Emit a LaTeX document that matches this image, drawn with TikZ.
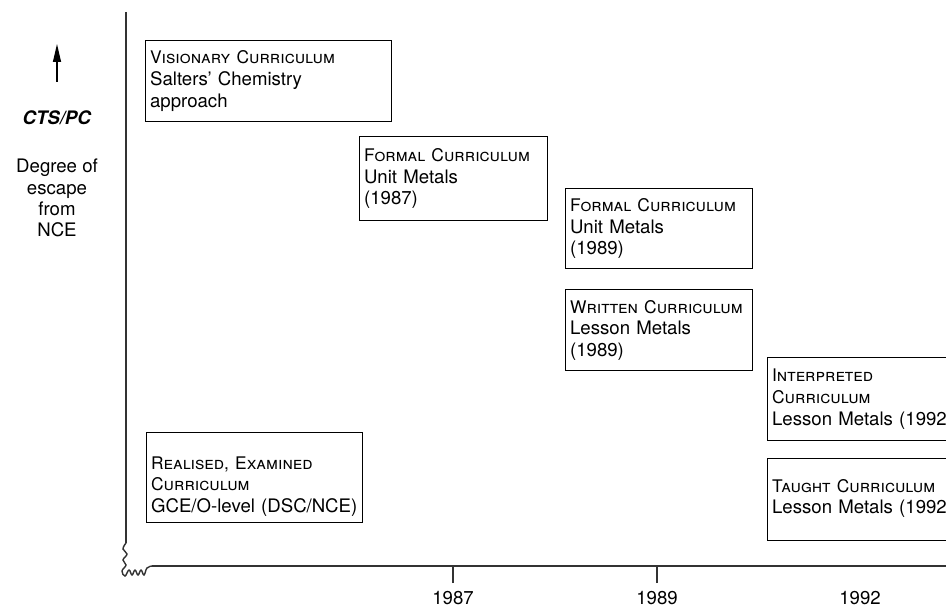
\documentclass[tikz,border=0pt]{standalone}
\usepackage{fontspec}
\setmainfont{TeX Gyre Heros}
\usetikzlibrary{arrows.meta,positioning}
\newcommand{\smc}[1]{{\fontsize{9.9}{12.3}\selectfont\textsc{#1}}}

\begin{document}
\begin{tikzpicture}[
  x=0.02cm, y=-0.02cm,
  box/.style={draw, line width=0.7pt, anchor=north west, inner xsep=0.9mm, inner ysep=0pt, align=left, font=\fontsize{10.6}{12.3}\selectfont},
  lab/.style={font=\fontsize{10.6}{12.1}\selectfont, align=center, inner sep=0pt},
  axis/.style={line width=0.8pt, black!80},
  arr/.style={-{Triangle[length=3.6mm, width=1.6mm]}, line width=0.7pt}
]
\useasboundingbox (0,0) rectangle (946,608);

% vertical scale on the left
\coordinate (foot) at (57,82);
\coordinate (tip) at (57,44);
\draw[arr] (foot) -- (tip);
\node[lab] (cts) at (57,118) {\textbf{\textit{CTS/PC}}};
\node[lab] (escape) at (57,198) {Degree of\\escape\\from\\NCE};

% axes
\coordinate (ytop) at (126,12);
\coordinate (ybreak) at (126,543);
\coordinate (xstart) at (152,566);
\coordinate (xend) at (960,566);
\draw[axis] (ytop) -- (ybreak);
\draw[axis] plot[smooth, tension=0.7] coordinates {(126,543) (123,549) (127,554) (123,560) (126,565) (122,571) (125,576) (129,570) (132,575) (135,570) (138,575) (141,570) (144,575) (147,568) (152,566)};
\draw[axis] (xstart) -- (xend);
\foreach \x/\yr in {453/1987, 657/1989, 860/1992}
  \coordinate (t\yr) at (\x,583);
\draw[axis] (t1987) -- (t1987 |- xstart);
\draw[axis] (t1989) -- (t1989 |- xstart);
\foreach \yr in {1987,1989,1992}
  \node[lab, below=1.6mm of t\yr] (y\yr) {\yr};

% curriculum boxes
\node[box, text width=4.74cm, minimum height=1.62cm] (visionary) at (145,40) {\smc{Visionary Curriculum}\\Salters' Chemistry\\approach};
\node[box, text width=3.58cm, minimum height=1.68cm] (formalA) at (359,136) {\smc{Formal Curriculum}\\Unit Metals\\(1987)};
\node[box, text width=3.56cm, minimum height=1.60cm] (formalB) at (565,188) {\smc{Formal Curriculum}\\Unit Metals\\(1989)};
\node[box, text width=3.56cm, minimum height=1.62cm] (written) at (565,289) {\smc{Written Curriculum}\\Lesson Metals\\(1989)};
\node[box, text width=3.80cm, minimum height=1.66cm] (interpreted) at (767,357) {\smc{Interpreted}\\\smc{Curriculum}\\Lesson Metals (1992)};
\node[box, text width=3.80cm, minimum height=1.64cm] (taught) at (767,458) {\mbox{}\\[-6pt]\smc{Taught Curriculum}\\Lesson Metals (1992)};
\node[box, text width=4.14cm, minimum height=1.80cm] (realised) at (146,432) {\mbox{}\\[5pt]\smc{Realised, Examined}\\\smc{Curriculum}\\GCE/O-level (DSC/NCE)};
\end{tikzpicture}
\end{document}
